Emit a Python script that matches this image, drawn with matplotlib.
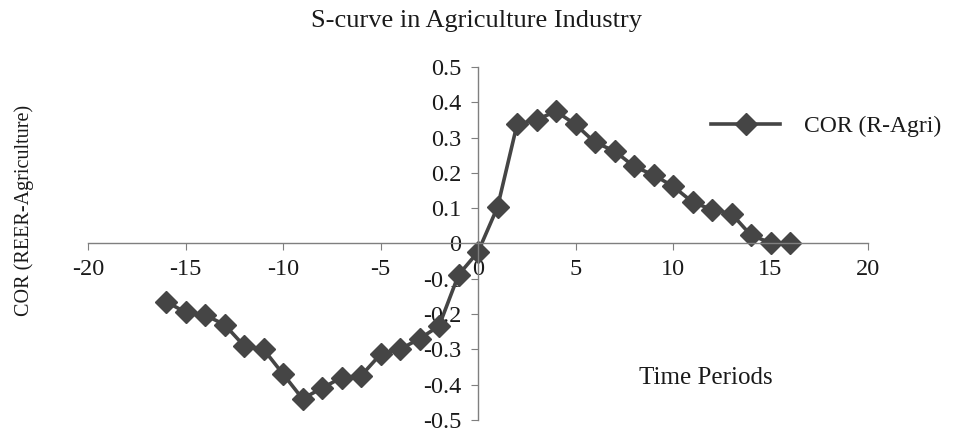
import matplotlib
matplotlib.use('Agg')
import matplotlib.pyplot as plt

plt.rcParams['font.family'] = ['Liberation Serif', 'DejaVu Serif']
plt.rcParams['axes.unicode_minus'] = False

# Data
periods = list(range(-16, 17))
cor_values = [-0.165, -0.195, -0.203, -0.23, -0.29, -0.30, -0.37, -0.44, -0.41,
              -0.38, -0.375, -0.314, -0.30, -0.27, -0.234, -0.089, -0.024,
              0.103, 0.337, 0.351, 0.374, 0.337, 0.286, 0.262, 0.218, 0.194,
              0.162, 0.117, 0.096, 0.084, 0.023, 0.002, 0.0]
x_ticks = [-20, -15, -10, -5, 0, 5, 10, 15, 20]
y_ticks = [-0.5, -0.4, -0.3, -0.2, -0.1, 0, 0.1, 0.2, 0.3, 0.4, 0.5]
y_tick_labels = ['-0.5', '-0.4', '-0.3', '-0.2', '-0.1', '0', '0.1', '0.2', '0.3', '0.4', '0.5']

fig = plt.figure(figsize=(9.6, 4.32), dpi=100)
ax = fig.add_axes([0.0917, 0.028, 0.8125, 0.817])

line, = ax.plot(periods, cor_values, color='#454545', linewidth=2.6,
                marker='D', markersize=11, markerfacecolor='#454545',
                markeredgecolor='#454545', label='COR (R-Agri)')

ax.set_xlim(-20, 20)
ax.set_ylim(-0.5, 0.5)

# Axes crossing at the origin
ax.spines['left'].set_position(('data', 0))
ax.spines['bottom'].set_position(('data', 0))
ax.spines['right'].set_visible(False)
ax.spines['top'].set_visible(False)
for s in ('left', 'bottom'):
    ax.spines[s].set_color('#7f7f7f')
    ax.spines[s].set_linewidth(1.0)

ax.set_xticks(x_ticks)
ax.set_xticklabels([str(t) for t in x_ticks])
ax.set_yticks(y_ticks)
ax.set_yticklabels(y_tick_labels)
ax.tick_params(axis='both', direction='out', length=5, color='#7f7f7f',
               labelsize=17.5, labelcolor='#1a1a1a')
ax.tick_params(axis='x', pad=6)
ax.tick_params(axis='y', pad=7)
ax.patch.set_alpha(0)

fig.text(0.496, 0.952, 'S-curve in Agriculture Industry', ha='center', va='center',
         fontsize=19, color='#1a1a1a')
fig.text(0.025, 0.514, 'COR (REER-Agriculture)', rotation=90, ha='center', va='center',
         fontsize=14.5, color='#1a1a1a')
ax.text(0.792, 0.118, 'Time Periods', transform=ax.transAxes, ha='center', va='center',
        fontsize=18, color='#1a1a1a')

fig.legend(handles=[line], loc='center left', bbox_to_anchor=(0.719, 0.708),
           frameon=False, fontsize=17, handlelength=2.9, handletextpad=1.0,
           labelcolor='#1a1a1a')

fig.savefig('out.png', dpi=100)
